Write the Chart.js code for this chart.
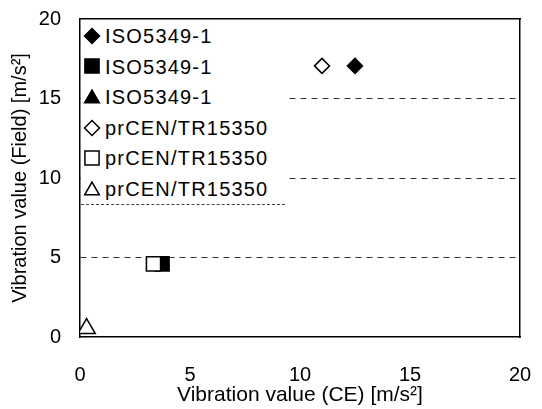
<!DOCTYPE html>
<html>
<head>
<meta charset="utf-8">
<script src="https://cdn.jsdelivr.net/npm/chart.js@4"></script>
<style>
  body { margin: 0; background: #fff; }
  #wrap { position: relative; width: 542px; height: 409px; }
  #legend {
    position: absolute; left: 81px; top: 21px; width: 204px; height: 183px;
    background: #fff; border-bottom: 1px dashed #444;
    font: 20px "Liberation Sans", Arial, sans-serif; letter-spacing: 1.2px; color: #000;
  }
  #legend div { height: 30.6px; line-height: 30.6px; white-space: nowrap; }
  #legend canvas { vertical-align: middle; margin-right: 2px; position: relative; top: -2px; }
</style>
</head>
<body>
<div id="wrap">
  <canvas id="chart" width="542" height="409"></canvas>
  <div id="legend"></div>
</div>
<script>
// series names (legend)
let names = ["ISO5349-1", "ISO5349-1", "ISO5349-1", "prCEN/TR15350", "prCEN/TR15350", "prCEN/TR15350"]

// values: [CE, Field]
let isoDiamond = [{x: 12.5, y: 17.05}]
let isoSquare = [{x: 3.73, y: 4.6}]
let isoTriangle = []
let cenDiamond = [{x: 11.0, y: 17.05}]
let cenSquare = [{x: 3.34, y: 4.6}]
let cenTriangle = [{x: 0.3, y: 0.53}]

let tickValues = [0, 5, 10, 15, 20]

const font = {family: "'Liberation Sans', Arial, sans-serif", size: 20}

function series(label, data, style, filled, radius, order) {
  return {
    label: label,
    data: data,
    pointStyle: style,
    pointRadius: radius,
    pointHoverRadius: radius,
    backgroundColor: filled ? "#000" : "#fff",
    borderColor: "#000",
    borderWidth: 1.5,
    showLine: false,
    order: order
  }
}

let datasets = [
  series(names[0], isoDiamond, 'rectRot', true, 7.5, 1),
  series(names[1], isoSquare, 'rect', true, 10, 1),
  series(names[2], isoTriangle, 'triangle', true, 10, 1),
  series(names[3], cenDiamond, 'rectRot', false, 7.5, 0),
  series(names[4], cenSquare, 'rect', false, 10, 0),
  series(names[5], cenTriangle, 'triangle', false, 10, 0)
]

// legend as html box over the plot (white background hides the grid)
let legendRadius = {rectRot: 7.5, rect: 10, triangle: 8.5}
let leg = document.getElementById("legend")
datasets.forEach(ds => {
  let row = document.createElement("div")
  let c = document.createElement("canvas")
  c.width = 22; c.height = 22
  let g = c.getContext("2d")
  g.fillStyle = ds.backgroundColor
  g.strokeStyle = ds.borderColor
  g.lineWidth = ds.borderWidth
  Chart.helpers.drawPoint(g, {pointStyle: ds.pointStyle, radius: legendRadius[ds.pointStyle], borderWidth: ds.borderWidth, rotation: 0},
    11, ds.pointStyle === 'triangle' ? 12.5 : 11)
  row.appendChild(c)
  row.appendChild(document.createTextNode(ds.label))
  leg.appendChild(row)
})

const ctx = document.getElementById("chart")
let chart = new Chart(ctx, {
  type: 'scatter',
  data: {datasets: datasets},
  options: {
    responsive: false,
    animation: false,
    layout: {padding: {top: 19, right: 22, left: 0, bottom: 0}},
    plugins: {legend: {display: false}, tooltip: {enabled: false}},
    scales: {
      x: {
        type: 'linear', min: 0, max: 20,
        afterBuildTicks: s => { s.ticks = tickValues.map(v => ({value: v})) },
        afterFit: s => { s.height = 72 },
        grid: {drawOnChartArea: false, drawTicks: true, tickLength: 24, tickColor: 'transparent'},
        border: {color: "#000", width: 1.5},
        ticks: {color: "#000", font: font, padding: 2, maxRotation: 0},
        title: {display: true, text: "Vibration value (CE) [m/s\u00B2]", color: "#000",
                font: {family: font.family, size: 21}, padding: {top: 0, bottom: 1}}
      },
      y: {
        type: 'linear', min: 0, max: 20,
        afterBuildTicks: s => { s.ticks = tickValues.map(v => ({value: v})) },
        afterFit: s => { s.width = 80 },
        grid: {
          color: c => (c.tick && (c.tick.value === 0 || c.tick.value === 20)) ? 'transparent' : '#333',
          lineWidth: 1, drawTicks: true, tickLength: 17, tickColor: 'transparent'
        },
        border: {color: "#000", width: 1.5, dash: [6, 5]},
        ticks: {color: "#000", font: font, padding: 2},
        title: {display: true, text: "Vibration value (Field) [m/s\u00B2]", color: "#000",
                font: {family: font.family, size: 20}, padding: {top: 8, bottom: 0}}
      },
      x2: {
        type: 'linear', position: 'top', min: 0, max: 20, display: true,
        afterFit: s => { s.height = 0 },
        grid: {display: false, drawTicks: false},
        border: {color: "#000", width: 1.5},
        ticks: {display: false}
      },
      y2: {
        type: 'linear', position: 'right', min: 0, max: 20, display: true,
        afterFit: s => { s.width = 0 },
        grid: {display: false, drawTicks: false},
        border: {color: "#000", width: 1.5},
        ticks: {display: false}
      }
    }
  }
})
</script>
</body>
</html>
